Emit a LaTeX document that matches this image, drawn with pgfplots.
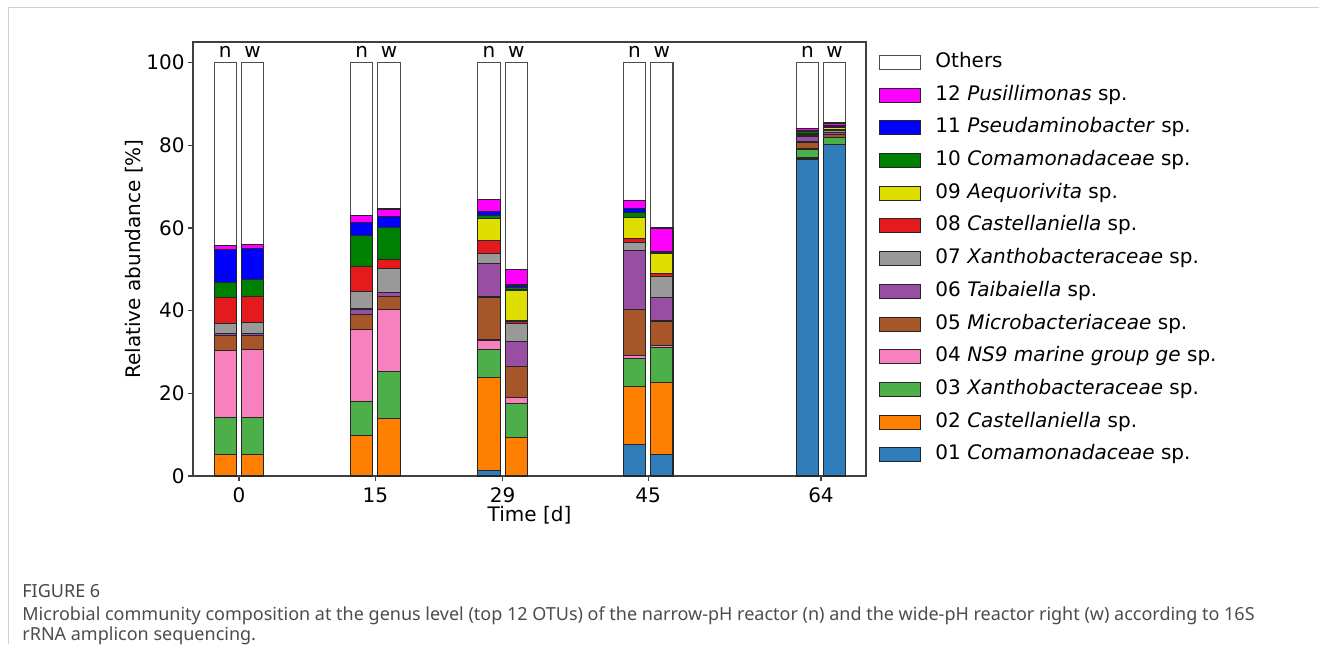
\documentclass[border=0pt]{standalone}
\usepackage{pgfplots}
\pgfplotsset{compat=1.18}
\usepackage{pgfplotstable}
\usepackage{fontspec}
\setmainfont{DejaVu Sans}
\newfontfamily\capfont{Noto Sans}

\definecolor{c01}{RGB}{47,125,186}
\definecolor{c02}{RGB}{255,127,0}
\definecolor{c03}{RGB}{77,175,74}
\definecolor{c04}{RGB}{247,129,191}
\definecolor{c05}{RGB}{166,86,40}
\definecolor{c06}{RGB}{152,78,163}
\definecolor{c07}{RGB}{153,153,153}
\definecolor{c08}{RGB}{228,26,28}
\definecolor{c09}{RGB}{222,222,0}
\definecolor{c10}{RGB}{0,128,0}
\definecolor{c11}{RGB}{0,0,255}
\definecolor{c12}{RGB}{255,0,255}

\pgfplotstableread{
x     s01  s02  s03  s04  s05  s06  s07  s08  s09  s10  s11  s12  oth
-1.5  0    5.3  8.8  16.2 3.6  0.5  2.4  6.4  0    3.6  8.1  0.8  44.3
1.5   0    5.3  8.8  16.6 3.2  0.5  2.7  6.4  0    4.0  7.5  0.9  44.1
13.5  0    9.9  8.2  17.4 3.5  1.4  4.3  6.0  0    7.4  3.2  1.8  36.9
16.5  0    14.0 11.2 15.1 3.1  1.0  5.8  2.1  0    7.9  2.6  1.8  35.4
27.5  1.3  22.6 6.6  2.4  10.4 8.2  2.4  3.1  5.4  0.6  1.0  2.8  33.2
30.5  0    9.4  8.2  1.5  7.5  6.0  4.2  0.7  7.5  0.7  0.5  3.8  50.0
43.5  7.6  14.0 6.8  0.7  11.1 14.4 1.9  1.0  5.0  1.3  0.9  2.0  33.3
46.5  5.2  17.4 8.4  0.6  5.9  5.6  5.2  0.6  4.9  0.3  0.3  5.6  40.0
62.5  76.7 0.4  1.9  0.2  1.6  1.3  0.4  0.2  0.1  0.5  0.3  0.5  15.9
65.5  80.1 0.2  1.5  0.1  0.8  0.3  0.7  0.2  0.5  0.2  0.2  0.6  14.6
}\data

\newcommand{\fs}{\fontsize{10}{12}\selectfont}

\begin{document}
\begin{tikzpicture}
\path[use as bounding box] (0,0) rectangle (659.5pt,322pt);
\draw[black!18, line width=0.5pt] (4pt,0) -- (4pt,318pt) -- (659.5pt,318pt);
\begin{axis}[
  at={(96.5pt,84pt)}, anchor=south west,
  scale only axis, width=336.5pt, height=217pt,
  ybar stacked, bar width=2.45,
  xmin=-5.05, xmax=68.95, ymin=0, ymax=105,
  xtick={0,15,29,45,64}, ytick={0,20,40,60,80,100},
  tick align=outside, tick pos=left, major tick length=2.5pt,
  axis line style={black!75, line width=0.6pt},
  every tick/.style={black!75, line width=0.6pt},
  /pgf/number format/assume math mode=true,
  tick label style={font=\fs},
  yticklabel style={inner sep=1.5pt},
  label style={font=\fs},
  xlabel={Time [d]}, ylabel={Relative abundance [\%]},
  xlabel style={at={(axis description cs:0.5,0)}, anchor=center, yshift=-19.5pt},
  ylabel style={at={(axis description cs:0,0.5)}, anchor=center, yshift=29.5pt},
  clip=false,
  reverse legend,
  legend style={at={(1,1)}, anchor=north west, xshift=6.5pt, yshift=-4pt,
    draw=none, fill=none, inner sep=0pt, row sep=4.35pt, font=\fs,
    cells={anchor=west},
    nodes={inner sep=1pt, text height=7.5pt, text depth=2.5pt}},
  legend image code/.code={\draw[#1, line width=0.5pt] (0pt,-3.5pt) rectangle (20.5pt,3.5pt); \path (26.5pt,0pt);},
  every axis plot/.append style={draw=black!85, line width=0.55pt},
]
\addplot[fill=c01] table[x=x,y=s01]{\data};
\addplot[fill=c02] table[x=x,y=s02]{\data};
\addplot[fill=c03] table[x=x,y=s03]{\data};
\addplot[fill=c04] table[x=x,y=s04]{\data};
\addplot[fill=c05] table[x=x,y=s05]{\data};
\addplot[fill=c06] table[x=x,y=s06]{\data};
\addplot[fill=c07] table[x=x,y=s07]{\data};
\addplot[fill=c08] table[x=x,y=s08]{\data};
\addplot[fill=c09] table[x=x,y=s09]{\data};
\addplot[fill=c10] table[x=x,y=s10]{\data};
\addplot[fill=c11] table[x=x,y=s11]{\data};
\addplot[fill=c12] table[x=x,y=s12]{\data};
\addplot[fill=white, draw=black!70] table[x=x,y=oth]{\data};
\legend{01 \textit{Comamonadaceae} sp.,
        02 \textit{Castellaniella} sp.,
        03 \textit{Xanthobacteraceae} sp.,
        04 \textit{NS9 marine group ge} sp.,
        05 \textit{Microbacteriaceae} sp.,
        06 \textit{Taibaiella} sp.,
        07 \textit{Xanthobacteraceae} sp.,
        08 \textit{Castellaniella} sp.,
        09 \textit{Aequorivita} sp.,
        10 \textit{Comamonadaceae} sp.,
        11 \textit{Pseudaminobacter} sp.,
        12 \textit{Pusillimonas} sp.,
        Others}
\node[anchor=base, font=\fs] at (axis cs:-1.5,101.3) {n};
\node[anchor=base, font=\fs] at (axis cs:1.5,101.3) {w};
\node[anchor=base, font=\fs] at (axis cs:13.5,101.3) {n};
\node[anchor=base, font=\fs] at (axis cs:16.5,101.3) {w};
\node[anchor=base, font=\fs] at (axis cs:27.5,101.3) {n};
\node[anchor=base, font=\fs] at (axis cs:30.5,101.3) {w};
\node[anchor=base, font=\fs] at (axis cs:43.5,101.3) {n};
\node[anchor=base, font=\fs] at (axis cs:46.5,101.3) {w};
\node[anchor=base, font=\fs] at (axis cs:62.5,101.3) {n};
\node[anchor=base, font=\fs] at (axis cs:65.5,101.3) {w};
\end{axis}
\node[anchor=base west, inner sep=0pt, text=black!72, font=\capfont\fontsize{9}{11}\selectfont\bfseries] at (11pt,23.5pt) {FIGURE 6};
\node[anchor=base west, inner sep=0pt, text=black!70, font=\capfont\fontsize{9.0}{11}\selectfont] at (11pt,12pt) {Microbial community composition at the genus level (top 12 OTUs) of the narrow-pH reactor (n) and the wide-pH reactor right (w) according to 16S};
\node[anchor=base west, inner sep=0pt, text=black!70, font=\capfont\fontsize{9.0}{11}\selectfont] at (11pt,1.9pt) {rRNA amplicon sequencing.};
\end{tikzpicture}
\end{document}
